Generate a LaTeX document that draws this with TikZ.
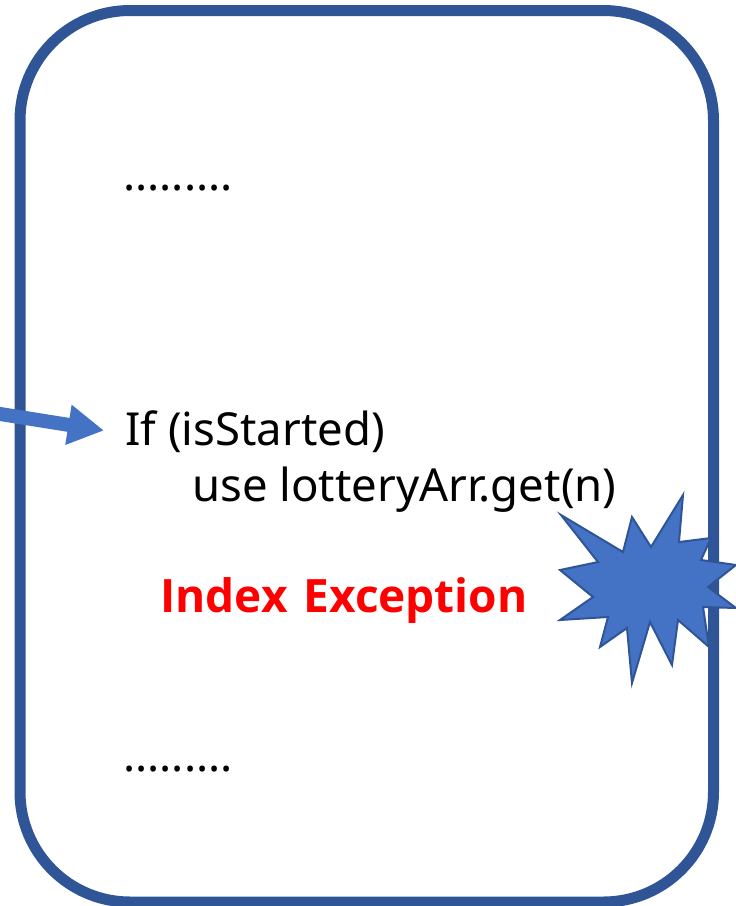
\documentclass[tikz,border=0pt]{standalone}
\usepackage{fontspec}
\setmainfont{Noto Sans}
\newfontfamily\errfont{Open Sans}
\usetikzlibrary{arrows.meta}
\definecolor{frameblue}{HTML}{2F5597}
\definecolor{fillblue}{HTML}{4472C4}
\definecolor{exred}{HTML}{FF0000}
\tikzset{
  codetext/.style={anchor=base west, inner sep=0pt, font=\fontsize{45.5}{54}\selectfont, text=black},
  errtext/.style={anchor=base west, inner sep=0pt, font=\errfont\fontsize{46}{54}\selectfont\bfseries, text=exred},
  frame/.style={draw=frameblue, line width=11pt, rounded corners=110pt},
  callarrow/.style={draw=fillblue, line width=14pt, -{Triangle[length=36pt,width=38pt]}},
  boom/.style={fill=fillblue, draw=frameblue, line width=2pt, line join=miter}
}
\begin{document}
\begin{tikzpicture}[x=1pt,y=-1pt]
\useasboundingbox (0,0) rectangle (736,906);
\draw[frame] (20,10.5) rectangle (713.5,902);
\node[codetext] (dots1) at (123,190) {.........};
\node[codetext] (line1) at (125,445) {If (isStarted)};
\node[codetext] (line2) at (192,501) {use lotteryArr.get(n)};
\node[errtext] (err) at (160,612) {Index\hspace{4pt} Exception};
\node[codetext] (dots2) at (123,771) {.........};
\coordinate (src) at (-6,413);
\coordinate (tip) at (104,430.5);
\draw[callarrow] (src) -- (tip);
\draw[boom] (561,515) -- (623,552) -- (632,517) -- (651,547) -- (683,495) -- (679,542)
  -- (711,538) -- (701,560) -- (736,565) -- (708,587) -- (736,608) -- (703,607)
  -- (709,647) -- (678,620) -- (672,665) -- (650,622) -- (632,683) -- (627,628)
  -- (600,647) -- (608,617) -- (560,620) -- (593,597) -- (560,570) -- (598,562) -- cycle;
\end{tikzpicture}
\end{document}
